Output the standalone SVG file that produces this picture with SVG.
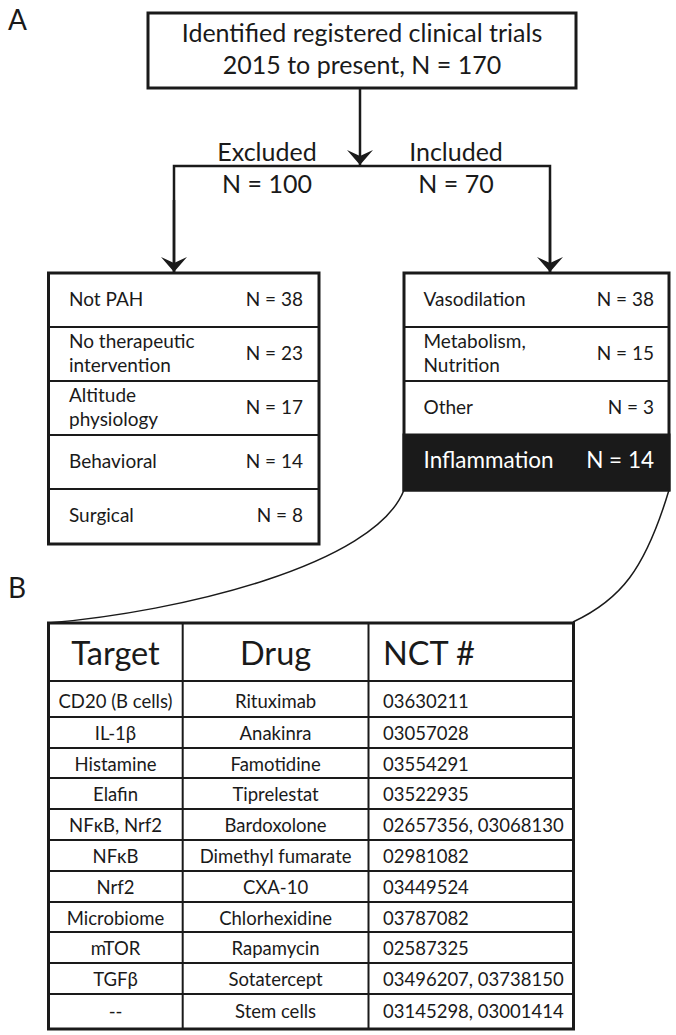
<svg xmlns="http://www.w3.org/2000/svg" width="676" height="1035" viewBox="0 0 676 1035">
<style>
.t{font-family:Lato,"Open Sans","Liberation Sans",sans-serif;fill:#1a1a1a}
.box{fill:#fff;stroke:#1a1a1a;stroke-width:3}
.dv{stroke:#1a1a1a;stroke-width:2;fill:none}
.c{stroke:#1a1a1a;stroke-width:2.5;fill:none}
.cv{stroke:#1a1a1a;stroke-width:1.5;fill:none}
.m{font-size:19px}
.r{text-anchor:end}
.mid{text-anchor:middle}
.h{font-size:25px}
.td{font-size:18.5px}
.th{font-size:32.5px}
.w{fill:#fff}
</style>
<defs>
<marker id="ah" viewBox="-16 -14 17 28" markerWidth="17" markerHeight="28" refX="0" refY="0" markerUnits="userSpaceOnUse" orient="auto">
<path d="M0,0 L-15,-13 L-9,0 L-15,13 Z" fill="#1a1a1a"/>
</marker>
</defs>
<rect width="676" height="1035" fill="#fff"/>
<g id="labels">
<text class="t" x="8" y="30" font-size="28">A</text>
<text class="t" x="8" y="598" font-size="28">B</text>
</g>
<g id="connectors">
<line class="c" x1="360" y1="88" x2="360" y2="165" marker-end="url(#ah)"/>
<polyline class="c" points="174,272 174,166 550,166 550,272"/>
<line class="c" x1="174" y1="200" x2="174" y2="272" marker-end="url(#ah)"/>
<line class="c" x1="550" y1="200" x2="550" y2="272" marker-end="url(#ah)"/>
<path class="cv" d="M404,490 C375,565 180,612 48,623"/>
<path class="cv" d="M669,490 C645,570 620,600 573,622"/>
<text class="t h mid" x="267" y="160.5">Excluded</text>
<text class="t h mid" x="456" y="160.5">Included</text>
<text class="t h mid" x="267" y="192.5">N = 100</text>
<text class="t h mid" x="456" y="192.5">N = 70</text>
</g>
<g id="node-top">
<rect class="box" x="148" y="13" width="428" height="75"/>
<text class="t h mid" x="362" y="42">Identified registered clinical trials</text>
<text class="t h mid" x="362" y="74">2015 to present, N = 170</text>
</g>
<g id="node-excluded">
<rect class="box" x="48.5" y="273" width="270.5" height="271"/>
<line class="dv" x1="48.5" y1="327" x2="319" y2="327"/>
<line class="dv" x1="48.5" y1="381" x2="319" y2="381"/>
<line class="dv" x1="48.5" y1="435" x2="319" y2="435"/>
<line class="dv" x1="48.5" y1="489" x2="319" y2="489"/>
<text class="t m" x="69" y="306">Not PAH</text>
<text class="t m r" x="303" y="306">N = 38</text>
<text class="t m" x="69" y="348.3">No therapeutic</text>
<text class="t m" x="69" y="371.7">intervention</text>
<text class="t m r" x="303" y="360">N = 23</text>
<text class="t m" x="69" y="402.3">Altitude</text>
<text class="t m" x="69" y="425.7">physiology</text>
<text class="t m r" x="303" y="414">N = 17</text>
<text class="t m" x="69" y="468">Behavioral</text>
<text class="t m r" x="303" y="468">N = 14</text>
<text class="t m" x="69" y="522">Surgical</text>
<text class="t m r" x="303" y="522">N = 8</text>
</g>
<g id="node-included">
<rect class="box" x="404" y="273" width="265" height="217"/>
<rect x="404" y="435" width="265" height="55" fill="#1a1a1a" stroke="#1a1a1a" stroke-width="3"/>
<line class="dv" x1="404" y1="327" x2="669" y2="327"/>
<line class="dv" x1="404" y1="381" x2="669" y2="381"/>
<text class="t m" x="423.5" y="306">Vasodilation</text>
<text class="t m r" x="654" y="306">N = 38</text>
<text class="t m" x="423.5" y="348.3">Metabolism,</text>
<text class="t m" x="423.5" y="371.7">Nutrition</text>
<text class="t m r" x="654" y="360">N = 15</text>
<text class="t m" x="423.5" y="414">Other</text>
<text class="t m r" x="654" y="414">N = 3</text>
<text class="t w" x="423.5" y="468.3" font-size="22.5">Inflammation</text>
<text class="t w r" x="654" y="468.3" font-size="22.5">N = 14</text>
</g>
<g id="node-table">
<rect class="box" x="48.5" y="623" width="525" height="406"/>
<line class="dv" x1="48.5" y1="681" x2="573.5" y2="681" stroke-width="2.5"/>
<line class="dv" x1="48.5" y1="717" x2="573.5" y2="717"/>
<line class="dv" x1="48.5" y1="748" x2="573.5" y2="748"/>
<line class="dv" x1="48.5" y1="778" x2="573.5" y2="778"/>
<line class="dv" x1="48.5" y1="809" x2="573.5" y2="809"/>
<line class="dv" x1="48.5" y1="840" x2="573.5" y2="840"/>
<line class="dv" x1="48.5" y1="871" x2="573.5" y2="871"/>
<line class="dv" x1="48.5" y1="902" x2="573.5" y2="902"/>
<line class="dv" x1="48.5" y1="932" x2="573.5" y2="932"/>
<line class="dv" x1="48.5" y1="963" x2="573.5" y2="963"/>
<line class="dv" x1="48.5" y1="994" x2="573.5" y2="994"/>
<line class="dv" x1="182.7" y1="623" x2="182.7" y2="1029"/>
<line class="dv" x1="368.5" y1="623" x2="368.5" y2="1029"/>
<text class="t th mid" x="115.5" y="665">Target</text>
<text class="t th mid" x="275.6" y="665">Drug</text>
<text class="t th" x="383" y="665">NCT #</text>
<text class="t td mid" x="115.5" y="708">CD20 (B cells)</text>
<text class="t td mid" x="275.6" y="708">Rituximab</text>
<text class="t td" x="383" y="708">03630211</text>
<text class="t td mid" x="115.5" y="740">IL-1β</text>
<text class="t td mid" x="275.6" y="740">Anakinra</text>
<text class="t td" x="383" y="740">03057028</text>
<text class="t td mid" x="115.5" y="770.5">Histamine</text>
<text class="t td mid" x="275.6" y="770.5">Famotidine</text>
<text class="t td" x="383" y="770.5">03554291</text>
<text class="t td mid" x="115.5" y="801">Elafin</text>
<text class="t td mid" x="275.6" y="801">Tiprelestat</text>
<text class="t td" x="383" y="801">03522935</text>
<text class="t td mid" x="115.5" y="832">NFκB, Nrf2</text>
<text class="t td mid" x="275.6" y="832">Bardoxolone</text>
<text class="t td" x="383" y="832">02657356, 03068130</text>
<text class="t td mid" x="115.5" y="863">NFκB</text>
<text class="t td mid" x="275.6" y="863">Dimethyl fumarate</text>
<text class="t td" x="383" y="863">02981082</text>
<text class="t td mid" x="115.5" y="894">Nrf2</text>
<text class="t td mid" x="275.6" y="894">CXA-10</text>
<text class="t td" x="383" y="894">03449524</text>
<text class="t td mid" x="115.5" y="924.5">Microbiome</text>
<text class="t td mid" x="275.6" y="924.5">Chlorhexidine</text>
<text class="t td" x="383" y="924.5">03787082</text>
<text class="t td mid" x="115.5" y="955">mTOR</text>
<text class="t td mid" x="275.6" y="955">Rapamycin</text>
<text class="t td" x="383" y="955">02587325</text>
<text class="t td mid" x="115.5" y="986">TGFβ</text>
<text class="t td mid" x="275.6" y="986">Sotatercept</text>
<text class="t td" x="383" y="986">03496207, 03738150</text>
<text class="t td mid" x="115.5" y="1018">--</text>
<text class="t td mid" x="275.6" y="1018">Stem cells</text>
<text class="t td" x="383" y="1018">03145298, 03001414</text>
</g>
</svg>
